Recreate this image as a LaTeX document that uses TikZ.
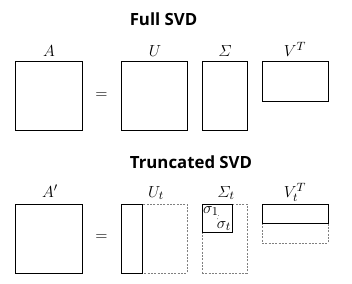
\documentclass[tikz,border=0pt]{standalone}
\usepackage{fontspec}
\usepackage{amsmath}
\usepackage{tikz}
\usetikzlibrary{positioning}
\newfontfamily\titlefont{Open Sans}
\definecolor{cutgray}{HTML}{808080}

\begin{document}
\begin{tikzpicture}[x=0.75pt,y=-0.75pt,
  every node/.style={inner sep=0pt,outer sep=0pt},
  mat/.style={draw=black,line width=0.65pt,anchor=north west},
  cut/.style={draw=cutgray,line width=0.55pt,dash pattern=on 1.5pt off 1pt,anchor=north west},
  lbl/.style={anchor=base,font=\fontsize{12.5}{15}\selectfont},
  heading/.style={anchor=base,font=\fontsize{12.6}{15}\selectfont\titlefont\bfseries}]
\useasboundingbox (0,0) rectangle (352,283);
% full SVD
\node[heading] (full) at (163.5,25) {Full SVD};
\node[mat,minimum width=50.25pt,minimum height=51.75pt] (A) at (15,61) {};
\node[mat,minimum width=49.5pt,minimum height=51.75pt] (U) at (121,61) {};
\node[mat,minimum width=33.75pt,minimum height=51.75pt] (S) at (202,61) {};
\node[mat,minimum width=49.5pt,minimum height=30pt] (V) at (262,61) {};
\node[lbl] (Alab) at (49,56) {$A$};
\node[lbl] (Ulab) at (155,56) {$U$};
\node[lbl] (Slab) at (225,56) {$\varSigma$};
\node[lbl] (Vlab) at (295,56) {$V^T$};
\node[lbl,anchor=center] (eq) at (101.5,96) {$=$};
% truncated SVD
\node[heading] (trunc) at (191,168) {Truncated SVD};
\node[mat,minimum width=50.25pt,minimum height=51.75pt] (Ap) at (15,204) {};
\node[cut,minimum width=49.5pt,minimum height=51.75pt] (Ucut) at (121,204) {};
\node[mat,minimum width=15.75pt,minimum height=51.75pt] (Ut) at (121,204) {};
\node[cut,minimum width=33.75pt,minimum height=51.75pt] (Scut) at (202,204) {};
\node[mat,minimum width=22.5pt,minimum height=21pt] (St) at (202,204) {};
\node[cut,minimum width=49.5pt,minimum height=29.25pt] (Vcut) at (262,204) {};
\node[mat,minimum width=49.5pt,minimum height=14.25pt] (Vt) at (262,204) {};
\node[lbl] (Aplab) at (50,197) {$A'$};
\node[lbl] (Utlab) at (156,197) {$U_t$};
\node[lbl] (Stlab) at (226,197) {$\varSigma_t$};
\node[lbl] (Vtlab) at (295,197) {$V_t^T$};
\node[lbl,anchor=center] (eqt) at (101.5,238) {$=$};
\node[lbl,anchor=base west] (s1) at (203,213) {$\sigma_1$};
\node[lbl,anchor=base east] (st) at (231,228) {$\sigma_t$};
\draw[dotted,line width=0.4pt] (s1.south east) -- (st.north west);
\end{tikzpicture}
\end{document}
